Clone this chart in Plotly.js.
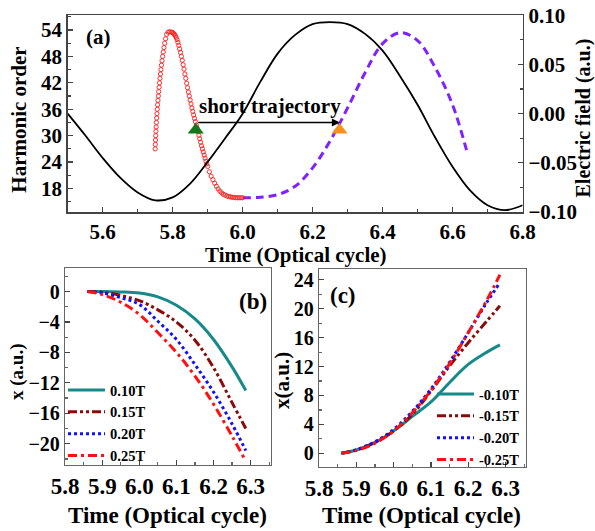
<!DOCTYPE html>
<html>
<head>
<meta charset="utf-8">
<script src="https://cdn.plot.ly/plotly-3.0.1.min.js"></script>
<style>html,body{margin:0;padding:0;background:#fff;}#chart{width:595px;height:531px;}</style>
</head>
<body>
<div id="chart"></div>
<script>
// ---------- Panel (a) data ----------
const tField = [5.50,5.55,5.60,5.65,5.70,5.75,5.80,5.85,5.90,5.95,6.00,6.05,6.10,6.15,6.20,6.25,6.30,6.35,6.40,6.45,6.50,6.55,6.60,6.65,6.70,6.75,6.80];
const eField = [0.000,-0.022,-0.045,-0.065,-0.080,-0.088,-0.085,-0.071,-0.049,-0.025,0.000,0.032,0.061,0.080,0.091,0.093,0.091,0.081,0.064,0.038,0.009,-0.024,-0.054,-0.078,-0.093,-0.098,-0.093];

const tIon = [5.7500,5.7505,5.7510,5.7516,5.7522,5.7529,5.7536,5.7544,5.7552,5.7561,5.7570,5.7580,5.7590,5.7601,5.7613,5.7625,5.7638,5.7651,5.7665,5.7680,5.7696,5.7713,5.7731,5.7751,5.7773,5.7798,5.7828,5.7870,5.7920,5.7975,
  5.8000,5.8025,5.8050,5.8075,5.8100,5.8125,5.8150,5.8175,5.8200,5.8225,5.8250,5.8275,5.8300,5.8325,5.8350,5.8375,5.8400,5.8425,5.8450,5.8475,5.8500,5.8525,5.8550,5.8575,5.8600,5.8625,5.8650,5.8675,5.8700,5.8725,5.8750,5.8775,5.8800,5.8825,5.8850,5.8875,5.8900,5.8925,5.8950,5.8975,5.9000,
  5.905,5.910,5.915,5.920,5.925,5.930,5.935,5.940,5.945,5.950,5.955,5.960,5.965,5.970,5.975,5.980,5.985,5.990,5.995,6.000];
const hIon = [27.0,28.0,29.0,30.0,31.0,32.0,33.0,34.0,35.0,36.0,37.0,38.0,39.0,40.0,41.0,42.0,43.0,44.0,45.0,46.0,47.0,48.0,49.0,50.0,51.0,52.0,53.0,53.5,53.6,53.5,
  53.4,53.2,53.0,52.7,52.3,51.8,51.2,50.5,49.7,48.9,48.0,47.1,46.1,45.1,44.0,43.0,41.9,40.9,39.9,39.0,38.1,37.2,36.3,35.5,34.7,33.9,33.2,32.4,31.7,30.9,30.1,29.3,28.5,27.7,27.0,26.3,25.6,24.9,24.2,23.6,23.0,
  21.8,20.8,20.0,19.2,18.5,17.9,17.4,17.0,16.7,16.5,16.3,16.2,16.1,16.0,16.0,15.9,15.9,15.9,15.9,15.9];

const tRet = [6.00,6.05,6.10,6.15,6.20,6.25,6.30,6.35,6.40,6.45,6.50,6.55,6.60,6.64];
const hRet = [15.9,16.0,16.6,18.5,22.7,28.8,36.3,44.3,50.9,53.4,51.6,45.5,37.0,26.7];

const markStart = {t: 5.866, h: 31.3};
const markEnd = {t: 6.277, h: 31.3};
const arrowLevel = 33.0;

// ---------- Panel (b) data ----------
const tB = [5.86,5.90,5.95,6.00,6.05,6.10,6.15,6.20,6.25,6.287];
const labelsB = ['0.10T','0.15T','0.20T','0.25T'];
const xB010 = [0,0,-0.05,-0.2,-0.7,-1.8,-3.6,-6.3,-9.9,-13.0];
const xB015 = [0,-0.1,-0.5,-1.2,-2.4,-4.0,-6.4,-10.0,-14.6,-18.0];
const xB020 = [0,-0.2,-0.8,-1.7,-3.9,-6.3,-9.6,-13.2,-17.4,-20.9];
const xB025 = [0,-0.4,-1.4,-3.0,-5.4,-8.0,-11.1,-14.8,-19.0,-22.3];

// ---------- Panel (c) data ----------
const tC = [5.86,5.90,5.95,6.00,6.05,6.10,6.15,6.20,6.25,6.285];
const labelsC = ['-0.10T','-0.15T','-0.20T','-0.25T'];
const xC010 = [0,0.45,1.5,3.1,5.1,7.1,9.8,12.3,14.0,15.0];
const xC015 = [0,0.45,1.5,3.1,5.4,8.6,12.1,15.3,18.3,20.4];
const xC020 = [0,0.5,1.6,3.3,5.8,8.9,12.6,16.7,20.9,23.6];
const xC025 = [0,0.4,1.4,3.1,5.6,8.7,12.4,16.7,21.2,24.7];

// ---------- styles ----------
const W = 595, H = 531;
const FONT = 'Liberation Serif';
const px = v => v / W;
const py = v => 1 - v / H;
const bf = (size) => ({family:FONT, size:size, color:'#000', weight:'bold'});
const styles = [
  {color:'#16898a', dash:'solid', width:3},
  {color:'#8b0a0a', dash:'9px,3px,3px,3px,3px,3px', width:3},
  {color:'#1010ff', dash:'3px,3px', width:3},
  {color:'#ff1010', dash:'9px,4px,3px,4px', width:3}
];

const traces = [];
// Panel (a)
traces.push({x:tField, y:eField, xaxis:'x', yaxis:'y2', mode:'lines', line:{color:'#000', width:1.8, shape:'spline'}, showlegend:false, hoverinfo:'skip'});
traces.push({x:tRet, y:hRet, xaxis:'x', yaxis:'y', mode:'lines', line:{color:'#7f22ff', width:3, dash:'8px,5px', shape:'spline'}, showlegend:false});
traces.push({x:tIon, y:hIon, xaxis:'x', yaxis:'y', mode:'markers', marker:{symbol:'circle-open', size:4.2, color:'#ff1a1a', line:{width:0.9, color:'#ff1a1a'}}, showlegend:false});
traces.push({x:[markStart.t], y:[markStart.h], xaxis:'x', yaxis:'y', mode:'markers', marker:{symbol:'triangle-up', size:14, color:'#13781a'}, showlegend:false});
traces.push({x:[markEnd.t], y:[markEnd.h], xaxis:'x', yaxis:'y', mode:'markers', marker:{symbol:'triangle-up', size:14, color:'#f7901e'}, showlegend:false});

// Panel (b)
[xB010, xB015, xB020, xB025].forEach((ys, i) => {
  traces.push({x:tB, y:ys, xaxis:'x2', yaxis:'y3', mode:'lines', name:labelsB[i], legend:'legend',
    line:{color:styles[i].color, width:styles[i].width, dash:styles[i].dash, shape:'spline'}});
});
// Panel (c)
[xC010, xC015, xC020, xC025].forEach((ys, i) => {
  traces.push({x:tC, y:ys, xaxis:'x3', yaxis:'y4', mode:'lines', name:labelsC[i], legend:'legend2',
    line:{color:styles[i].color, width:styles[i].width, dash:styles[i].dash, shape:'spline'}});
});

const axLine = '#444';
function axisBase(extra) {
  return Object.assign({
    showline:true, linecolor:axLine, linewidth:1.5, mirror:true,
    ticks:'inside', ticklen:5, tickwidth:1.2, tickcolor:axLine,
    showgrid:false, zeroline:false, fixedrange:true,
    tickfont:bf(21)
  }, extra);
}

const layout = {
  width:W, height:H,
  margin:{l:0, r:0, t:0, b:0},
  font: bf(21),
  paper_bgcolor:'#fff', plot_bgcolor:'#fff',
  showlegend:true,
  xaxis: axisBase({domain:[px(67.7), px(522.7)], range:[5.5, 6.8005], dtick:0.2, tick0:5.6, tickformat:'.1f', anchor:'y',
    minor:{ticks:'inside', ticklen:3, dtick:0.1, tick0:5.5, tickcolor:axLine, showgrid:false}}),
  yaxis: axisBase({domain:[py(212.3), py(15)], range:[12.6, 57.4], dtick:6, tick0:0, anchor:'x', mirror:false,
    minor:{ticks:'inside', ticklen:3, dtick:3, tick0:0, tickcolor:axLine, showgrid:false}}),
  yaxis2: axisBase({overlaying:'y', side:'right', anchor:'x', range:[-0.1002, 0.1002], dtick:0.05, tick0:0, tickformat:'.2f', mirror:false,
    minor:{ticks:'inside', ticklen:3, dtick:0.025, tick0:0, tickcolor:axLine, showgrid:false}}),
  xaxis2: axisBase({domain:[px(65), px(271)], range:[5.7995, 6.355], dtick:0.1, tick0:5.8, tickformat:'.1f', anchor:'y3', linecolor:'#666', linewidth:1.2,
    tickfont:bf(23),
    minor:{ticks:'inside', ticklen:3, dtick:0.05, tickcolor:'#666', showgrid:false}}),
  yaxis3: axisBase({domain:[py(465), py(268)], range:[-22.8, 3.1], dtick:4, tick0:0, anchor:'x2', linecolor:'#666', linewidth:1.2,
    tickfont:bf(20),
    minor:{ticks:'inside', ticklen:3, dtick:2, tickcolor:'#666', showgrid:false}}),
  xaxis3: axisBase({domain:[px(319), px(526)], range:[5.7995, 6.355], dtick:0.1, tick0:5.8, tickformat:'.1f', anchor:'y4', linecolor:'#666', linewidth:1.2,
    tickfont:bf(23),
    minor:{ticks:'inside', ticklen:3, dtick:0.05, tickcolor:'#666', showgrid:false}}),
  yaxis4: axisBase({domain:[py(467), py(269)], range:[-1.9, 25.5], dtick:4, tick0:0, anchor:'x3', linecolor:'#666', linewidth:1.2,
    tickfont:bf(20),
    minor:{ticks:'inside', ticklen:3, dtick:2, tickcolor:'#666', showgrid:false}}),
  legend: {x:px(63), y:py(374), xanchor:'left', yanchor:'top', bgcolor:'rgba(0,0,0,0)', borderwidth:0,
    font:bf(14.5), tracegroupgap:0, itemwidth:37},
  legend2: {x:px(432), y:py(378), xanchor:'left', yanchor:'top', bgcolor:'rgba(0,0,0,0)', borderwidth:0,
    font:bf(14.5), tracegroupgap:0, itemwidth:37},
  annotations: [
    {xref:'x', yref:'y', x:6.278, y:arrowLevel, ax:5.869, ay:arrowLevel, axref:'x', ayref:'y', text:'', showarrow:true, arrowhead:2, arrowsize:1, arrowwidth:1.6, arrowcolor:'#000'},
    {xref:'x', yref:'y', x:6.077, y:36.8, text:'short trajectory', showarrow:false, xanchor:'center', yanchor:'middle', font:bf(21)},
    {xref:'paper', yref:'paper', x:px(98.3), y:py(36.7), text:'(a)', showarrow:false, xanchor:'center', yanchor:'middle', font:bf(21)},
    {xref:'paper', yref:'paper', x:px(253), y:py(301.7), text:'(b)', showarrow:false, xanchor:'center', yanchor:'middle', font:bf(23)},
    {xref:'paper', yref:'paper', x:px(343.3), y:py(295), text:'(c)', showarrow:false, xanchor:'center', yanchor:'middle', font:bf(23)},
    {xref:'paper', yref:'paper', x:px(296), y:py(255), text:'Time (Optical cycle)', showarrow:false, xanchor:'center', yanchor:'middle', font:bf(21)},
    {xref:'paper', yref:'paper', x:px(19), y:py(119.7), text:'Harmonic order', textangle:-90, showarrow:false, xanchor:'center', yanchor:'middle', font:bf(21)},
    {xref:'paper', yref:'paper', x:px(583), y:py(118.5), text:'Electric field (a.u.)', textangle:-90, showarrow:false, xanchor:'center', yanchor:'middle', font:bf(20)},
    {xref:'paper', yref:'paper', x:px(167.5), y:py(515), text:'Time (Optical cycle)', showarrow:false, xanchor:'center', yanchor:'middle', font:bf(23)},
    {xref:'paper', yref:'paper', x:px(421.7), y:py(515), text:'Time (Optical cycle)', showarrow:false, xanchor:'center', yanchor:'middle', font:bf(23)},
    {xref:'paper', yref:'paper', x:px(17), y:py(372), text:'x (a.u.)', textangle:-90, showarrow:false, xanchor:'center', yanchor:'middle', font:bf(19)},
    {xref:'paper', yref:'paper', x:px(282), y:py(381), text:'x(a.u.)', textangle:-90, showarrow:false, xanchor:'center', yanchor:'middle', font:bf(21)}
  ]
};

Plotly.newPlot('chart', traces, layout, {displayModeBar:false, staticPlot:true});
</script>
</body>
</html>
